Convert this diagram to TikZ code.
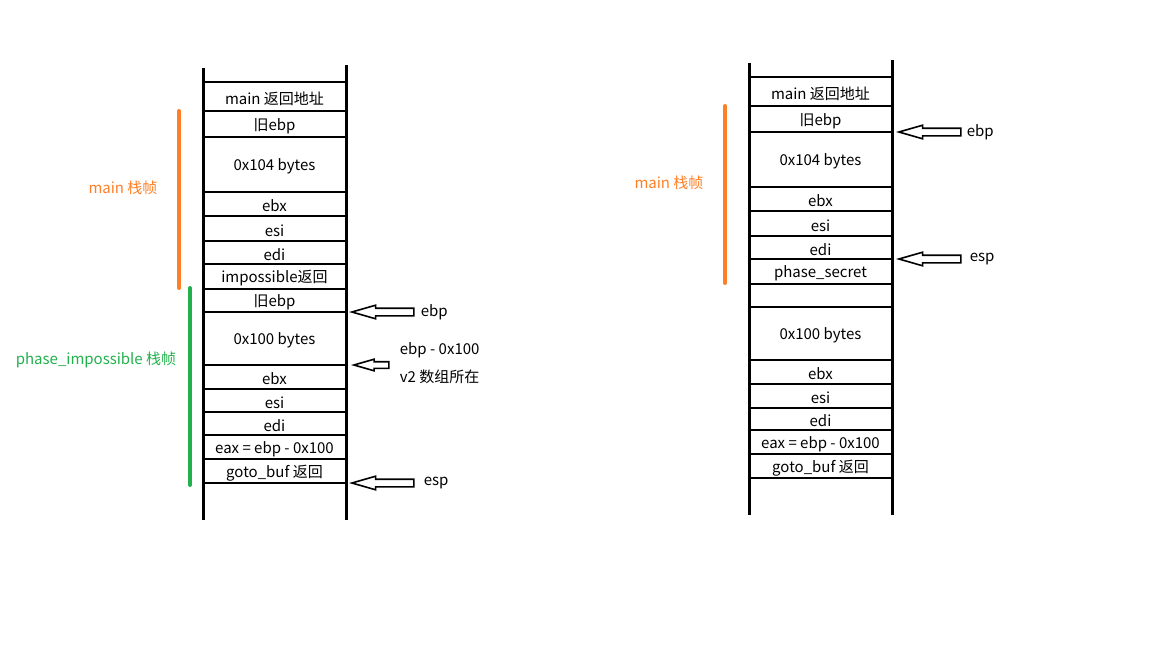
\documentclass[tikz,border=0pt]{standalone}
\usepackage{fontspec}
\setmainfont{Noto Sans CJK SC}
\usetikzlibrary{shapes.arrows,positioning}
\definecolor{frameorange}{HTML}{FF7F27}
\definecolor{framegreen}{HTML}{22B14C}
\tikzset{
  wall/.style={line width=3pt},
  rung/.style={line width=2.6pt},
  cell/.style={inner sep=0pt,yshift=-2pt},
  bar/.style={line width=4pt,line cap=round},
  ptr/.style={single arrow,draw,fill=white,line width=1.6pt,shape border rotate=180,
    single arrow tip angle=32,single arrow head extend=3pt,inner sep=3pt,
    minimum width=12pt,minimum height=62pt,anchor=tip},
  tag/.style={inner sep=0pt,anchor=west}
}
\begin{document}
\fontsize{15}{17}\selectfont
\begin{tikzpicture}[x=1pt,y=-1pt]
\useasboundingbox (0,0) rectangle (1152,648);
% left stack
\draw[wall] (203,68)--(203,520);
\draw[wall] (346,65)--(346,520);
\draw[rung] (203,82)--(346,82);
\foreach \a/\b/\t [count=\i] in {82/111/main 返回地址,111/137/旧ebp,137/192/0x104 bytes,192/216/ebx,216/241/esi,241/264/edi,264/289/impossible返回,289/312/旧ebp,312/365/0x100 bytes,365/389/ebx,389/412/esi,412/435/edi,435/459/eax = ebp - 0x100,459/483/goto\_buf 返回}
{\draw[rung] (203,\b)--(346,\b);
\coordinate (LR\i) at (346,\b);
\node[cell] (L\i) at (274.5,{(\a+\b)/2}) {\t};}
\draw[bar,frameorange] (179,111)--(179,288);
\draw[bar,framegreen] (190,288)--(190,485);
\node[frameorange] (mainL) at (123,188) {main 栈帧};
\node[framegreen] (implL) at (96,360) {phase\_impossible 栈帧};
\node[ptr] (ebpL) at ([xshift=3pt]LR8) {};
\node[tag,right=6pt of ebpL.tail] (ebpLt) {ebp};
\node[ptr,minimum height=35pt,minimum width=10pt,single arrow head extend=2.5pt,inner sep=2.5pt] (bufL) at ([xshift=5pt]LR9) {};
\node[tag] (bufLt) at ([shift={(10,-15)}]bufL.tail) {ebp - 0x100};
\node[tag] (bufLv) at ([shift={(10,12)}]bufL.tail) {v2 数组所在};
\node[ptr] (espL) at ([xshift=3pt]LR14) {};
\node[tag,right=9pt of espL.tail] (espLt) {esp};
% right stack
\draw[wall] (749,63)--(749,515);
\draw[wall] (892,60)--(892,515);
\draw[rung] (749,77)--(892,77);
\foreach \a/\b/\t [count=\i] in {77/106/main 返回地址,106/132/旧ebp,132/187/0x104 bytes,187/211/ebx,211/236/esi,236/259/edi,259/284/phase\_secret,284/307/{},307/360/0x100 bytes,360/384/ebx,384/408/esi,408/430/edi,430/454/eax = ebp - 0x100,454/478/goto\_buf 返回}
{\draw[rung] (749,\b)--(892,\b);
\coordinate (RR\i) at (892,\b);
\node[cell] (R\i) at (820.5,{(\a+\b)/2}) {\t};}
\draw[bar,frameorange] (725,106)--(725,283);
\node[frameorange] (mainR) at (669,183) {main 栈帧};
\node[ptr] (ebpR) at ([xshift=4pt]RR2) {};
\node[tag,right=5pt of ebpR.tail] (ebpRt) {ebp};
\node[ptr] (espR) at ([xshift=4pt]RR6) {};
\node[tag,right=8pt of espR.tail] (espRt) {esp};
\end{tikzpicture}
\end{document}
